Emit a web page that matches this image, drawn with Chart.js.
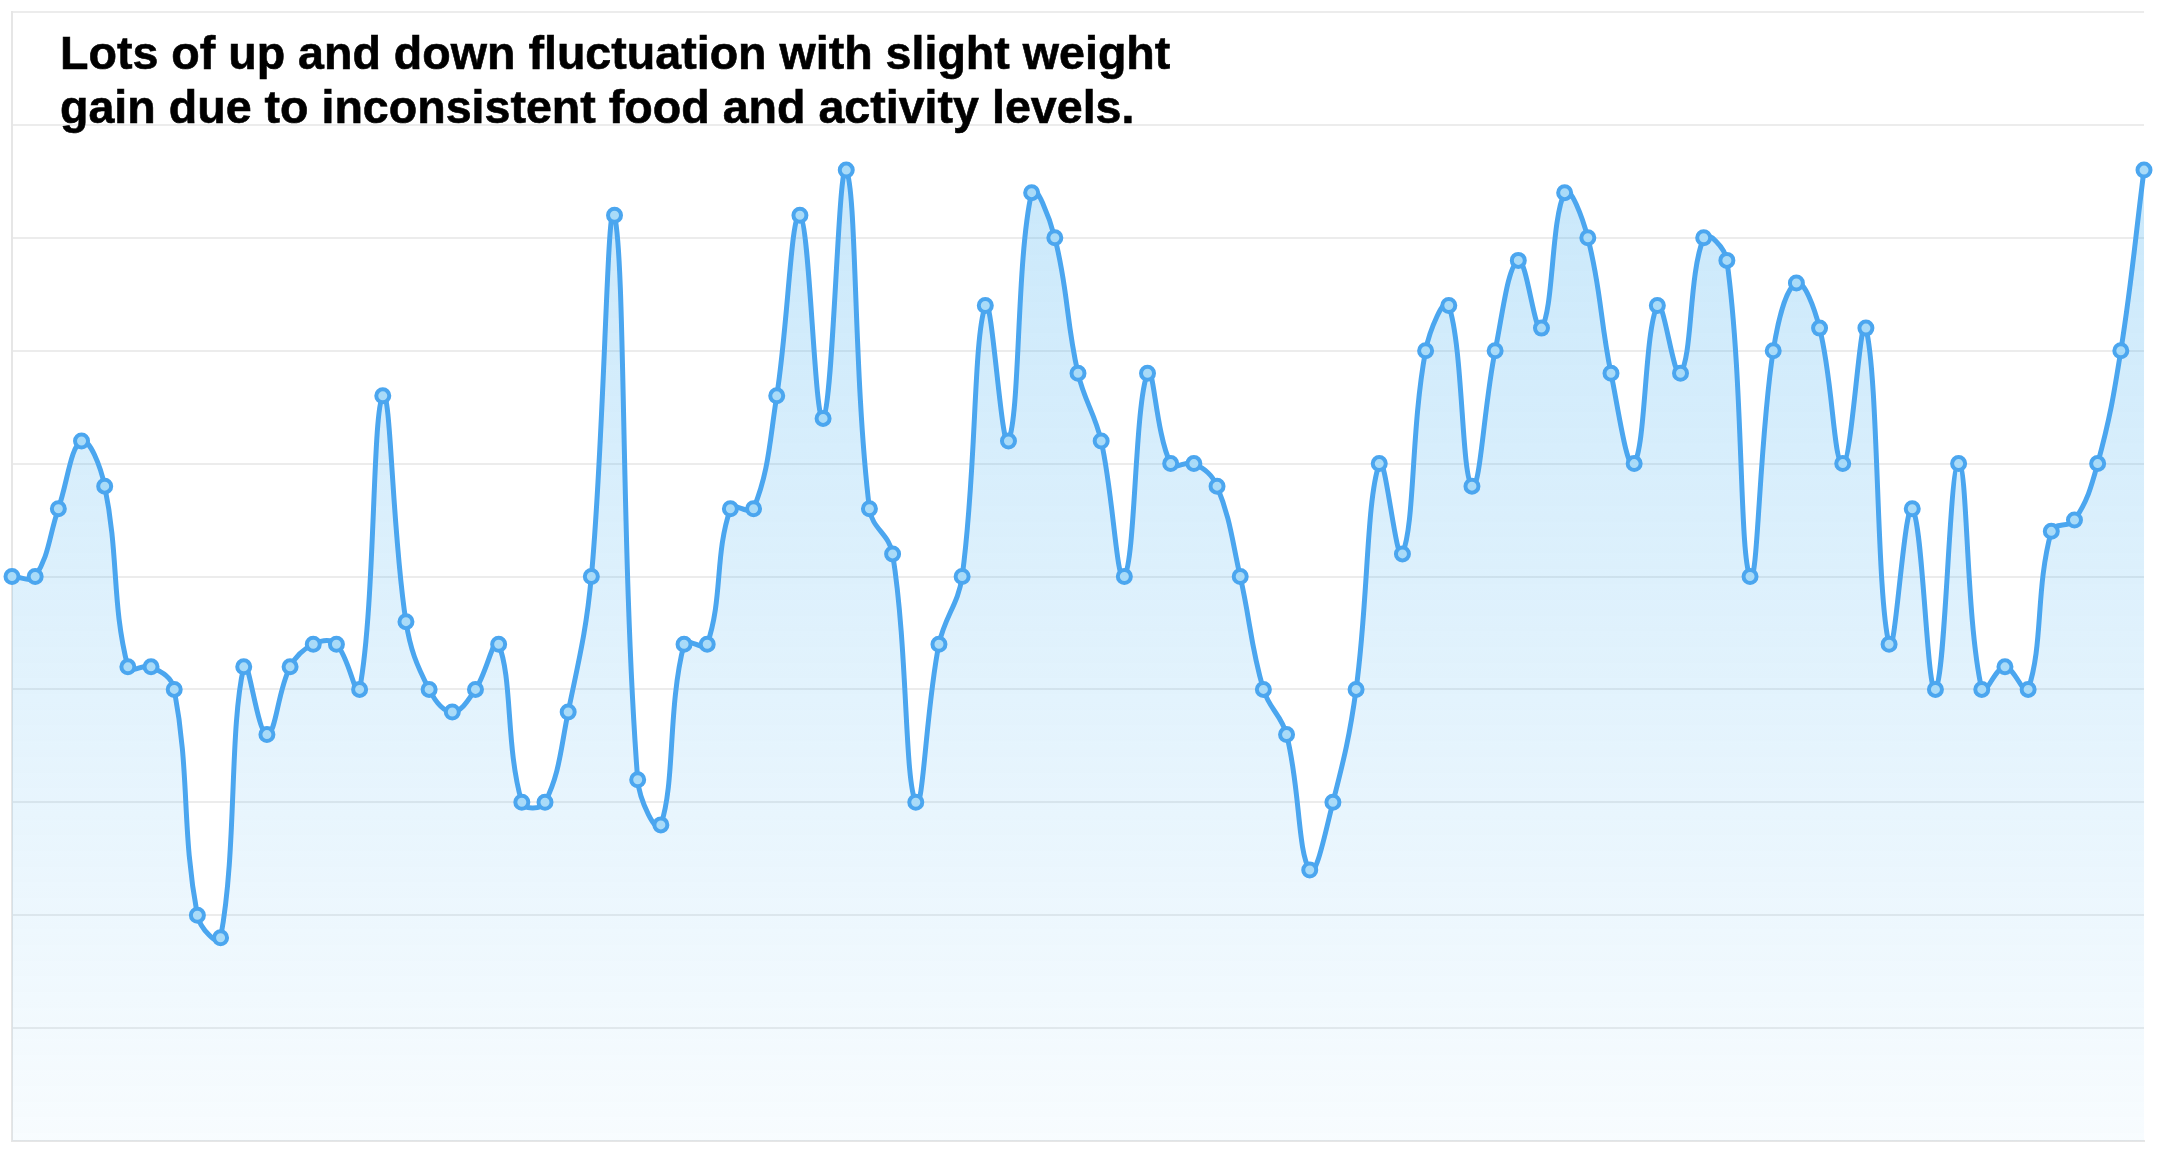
<!DOCTYPE html>
<html>
<head>
<meta charset="utf-8">
<script src="https://cdn.jsdelivr.net/npm/chart.js@4"></script>
<style>
body{margin:0;background:#fff;}
#wrap{position:relative;width:2160px;height:1154px;}
#title{
    position:absolute;
    left:60px;
    top:26px;
    font-family:"Liberation Sans",Arial,Helvetica,sans-serif;
    font-weight:bold;
    font-size:46.6px;
    line-height:54px;
    color:#000;
    -webkit-text-stroke:0.6px #000;
}
</style>
</head>
<body>
<div id="wrap">
<canvas id="weightChart" width="2160" height="1154"></canvas>
<div id="title">Lots of up and down fluctuation with slight weight<br>gain due to inconsistent food and activity levels.</div>
</div>
<script>
// Peso diario (unidades de la cuadrícula, 0 = abajo)

const days = [];
for (let i = 1; i <= 93; i++) days.push("Day " + i);

const weight = [
    5.0, 5.0, 5.6, 6.2, 5.8, 4.2, 4.2, 4.0, 2.0, 1.8,
    4.2, 3.6, 4.2, 4.4, 4.4, 4.0, 6.6, 4.6, 4.0, 3.8,
    4.0, 4.4, 3.0, 3.0, 3.8, 5.0, 8.2, 3.2, 2.8, 4.4,
    4.4, 5.6, 5.6, 6.6, 8.2, 6.4, 8.6, 5.6, 5.2, 3.0,
    4.4, 5.0, 7.4, 6.2, 8.4, 8.0, 6.8, 6.2, 5.0, 6.8,
    6.0, 6.0, 5.8, 5.0, 4.0, 3.6, 2.4, 3.0, 4.0, 6.0,
    5.2, 7.0, 7.4, 5.8, 7.0, 7.8, 7.2, 8.4, 8.0, 6.8,
    6.0, 7.4, 6.8, 8.0, 7.8, 5.0, 7.0, 7.6, 7.2, 6.0,
    7.2, 4.4, 5.6, 4.0, 6.0, 4.0, 4.2, 4.0, 5.4, 5.5,
    6.0, 7.0, 8.6
];

const yMin = 0;
const yMax = 10;

new Chart(
document.getElementById("weightChart"),
{
    type:"line",

    data:{
        labels:days,
        datasets:[{
            label:"Weight",
            data:weight,
            borderColor:"#4ba6ef",
            borderWidth:5,
            tension:0.4,
            pointRadius:6.5,
            pointBorderWidth:4,
            pointBorderColor:"#4ba6ef",
            pointBackgroundColor:"#a9dbf8",
            fill:"start",
            backgroundColor:function(ctx){
                const area = ctx.chart.chartArea;
                if (!area) return "rgba(66,174,240,0.2)";
                const g = ctx.chart.ctx.createLinearGradient(0, area.top, 0, area.bottom);
                g.addColorStop(0, "rgba(66,174,240,0.32)");
                g.addColorStop(1, "rgba(66,174,240,0.04)");
                return g;
            }
        }]
    },

    options:{
        responsive:false,
        animation:false,
        layout:{
            padding:{left:12, top:12, right:16, bottom:13}
        },
        plugins:{
            legend:{display:false},
            tooltip:{enabled:false},
            title:{display:false}
        },
        scales:{
            x:{
                ticks:{display:false},
                grid:{display:false, drawTicks:false},
                border:{display:true, color:"#e6e6e6", width:2}
            },
            y:{
                min:yMin,
                max:yMax,
                ticks:{display:false, stepSize:1},
                grid:{color:"#ececec", lineWidth:2, drawTicks:false},
                border:{display:true, color:"#e6e6e6", width:2}
            }
        }
    }
});
</script>
</body>
</html>
